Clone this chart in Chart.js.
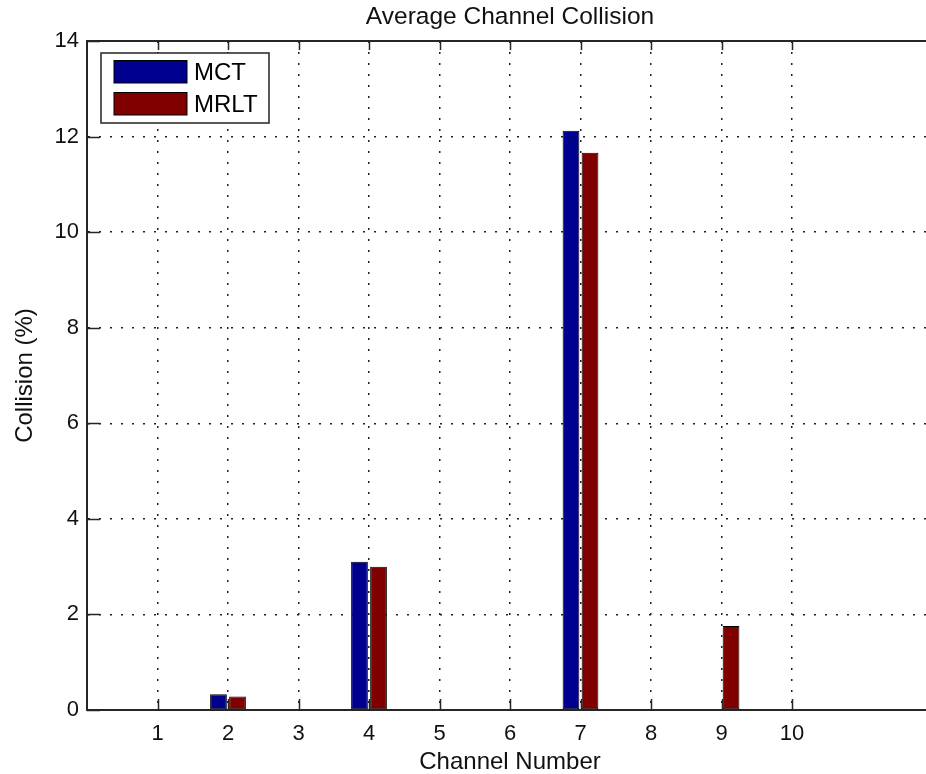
<!DOCTYPE html>
<html>
<head>
<meta charset="utf-8">
<script src="https://cdn.jsdelivr.net/npm/chart.js@4/dist/chart.umd.min.js"></script>
<style>
  html, body { margin: 0; padding: 0; background: #fff; overflow: hidden; }
  #wrap { width: 926px; height: 774px; overflow: hidden; position: relative; }
  canvas { display: block; }
</style>
</head>
<body>
<div id="wrap"><canvas id="c" width="933" height="774"></canvas></div>
<script>
// ---- data ----
const channels = [1, 2, 3, 4, 5, 6, 7, 8, 9, 10];
const mctValues  = [0, 0.33, 0, 3.10, 0, 0, 12.12, 0, 0, 0];
const mrltValues = [0, 0.28, 0, 3.00, 0, 0, 11.66, 0, 1.76, 0];
const seriesNames = ['MCT', 'MRLT'];
const yTicks = [0, 2, 4, 6, 8, 10, 12, 14];
const chartTitle = 'Average Channel Collision';
const xTitle = 'Channel Number';
const yTitle = 'Collision (%)';

const FONT = "'Liberation Sans', Arial, Helvetica, sans-serif";
const AXIS_COLOR = '#262626';

const toPoints = vals => channels.map((c, i) => ({ x: c, y: vals[i] }));

const legendInside = {
  id: 'legendInside',
  afterDraw(chart) {
    const { ctx, chartArea } = chart;
    const x0 = chartArea.left + 14, y0 = chartArea.top + 12;
    const w = 168, h = 70;
    ctx.save();
    ctx.fillStyle = '#fff';
    ctx.fillRect(x0, y0, w, h);
    ctx.lineWidth = 1.5;
    ctx.strokeStyle = '#222';
    ctx.strokeRect(x0, y0, w, h);
    ctx.font = '24px ' + FONT;
    ctx.textBaseline = 'middle';
    ctx.textAlign = 'left';
    chart.data.datasets.forEach((ds, i) => {
      const sy = y0 + 7.5 + i * 32;
      ctx.fillStyle = ds.backgroundColor;
      ctx.fillRect(x0 + 13, sy, 73, 22.5);
      ctx.lineWidth = 1;
      ctx.strokeStyle = '#000';
      ctx.strokeRect(x0 + 13, sy, 73, 22.5);
      ctx.fillStyle = '#000';
      ctx.fillText(ds.label, x0 + 93, sy + 12.5);
    });
    ctx.restore();
  }
};

const frameTicks = {
  id: 'frameTicks',
  afterDatasetsDraw(chart) {
    const { ctx, chartArea, scales } = chart;
    ctx.save();
    ctx.strokeStyle = AXIS_COLOR;
    ctx.lineWidth = 2;
    ctx.beginPath();
    ctx.moveTo(chartArea.left, chartArea.top);
    ctx.lineTo(chartArea.right, chartArea.top);
    ctx.stroke();
    ctx.lineWidth = 1.5;
    ctx.beginPath();
    channels.forEach(c => {
      const px = Math.round(scales.x.getPixelForValue(c)) + 0.5;
      ctx.moveTo(px, chartArea.bottom);
      ctx.lineTo(px, chartArea.bottom - 11);
      ctx.moveTo(px, chartArea.top);
      ctx.lineTo(px, chartArea.top + 9);
    });
    yTicks.forEach(v => {
      const py = Math.round(scales.y.getPixelForValue(v)) + 0.5;
      ctx.moveTo(chartArea.left, py);
      ctx.lineTo(chartArea.left + 13, py);
    });
    ctx.stroke();
    ctx.restore();
  }
};

new Chart(document.getElementById('c'), {
  type: 'bar',
  data: {
    datasets: [
      { label: seriesNames[0], data: toPoints(mctValues), backgroundColor: '#00008F',
        borderColor: '#000', borderWidth: 1, borderSkipped: false,
        categoryPercentage: 0.54, barPercentage: 0.88 },
      { label: seriesNames[1], data: toPoints(mrltValues), backgroundColor: '#800000',
        borderColor: '#000', borderWidth: 1, borderSkipped: false,
        categoryPercentage: 0.54, barPercentage: 0.88 }
    ]
  },
  options: {
    responsive: false,
    animation: false,
    layout: { padding: { left: 0, right: 0, top: 0, bottom: 0 } },
    plugins: {
      legend: { display: false },
      tooltip: { enabled: false },
      title: {
        display: true,
        text: chartTitle,
        fullSize: false,
        color: '#111',
        font: { family: FONT, size: 24.5, weight: 'normal', lineHeight: 1.2 },
        padding: { top: 3, bottom: 8.6 }
      }
    },
    scales: {
      x: {
        type: 'linear',
        offset: false,
        min: 0,
        max: 12,
        afterFit: s => { s.height = 64; s.paddingLeft = 0; s.paddingRight = 0; },
        afterBuildTicks: s => { s.ticks = Array.from({ length: 13 }, (_, i) => ({ value: i })); },
        ticks: {
          autoSkip: false,
          maxRotation: 0,
          padding: 11,
          color: '#111',
          font: { family: FONT, size: 22 },
          callback: v => (channels.includes(v) ? String(v) : '')
        },
        grid: {
          offset: false,
          drawTicks: false,
          lineWidth: 1.5,
          color: ctx => (ctx.tick && channels.includes(ctx.tick.value) ? '#222' : 'rgba(0,0,0,0)')
        },
        border: { display: true, color: AXIS_COLOR, width: 2, dash: [2, 9] },
        title: {
          display: true,
          text: xTitle,
          color: '#111',
          font: { family: FONT, size: 24, lineHeight: 1 },
          padding: { top: 0, bottom: 0 }
        }
      },
      y: {
        min: 0,
        max: 14,
        afterFit: s => { s.width = 87; s.paddingTop = 0; s.paddingBottom = 0; },
        afterBuildTicks: s => { s.ticks = yTicks.map(v => ({ value: v })); },
        ticks: {
          padding: 8,
          color: '#111',
          font: { family: FONT, size: 22 }
        },
        grid: {
          drawTicks: false,
          lineWidth: 1.5,
          color: ctx => (ctx.tick && ctx.tick.value > 0 && ctx.tick.value < 14 ? '#222' : 'rgba(0,0,0,0)')
        },
        border: { display: true, color: AXIS_COLOR, width: 2, dash: [2, 9] },
        title: {
          display: true,
          text: yTitle,
          color: '#111',
          font: { family: FONT, size: 24, lineHeight: 1.2 },
          padding: { top: 11, bottom: 0 }
        }
      }
    }
  },
  plugins: [legendInside, frameTicks]
});
</script>
</body>
</html>
